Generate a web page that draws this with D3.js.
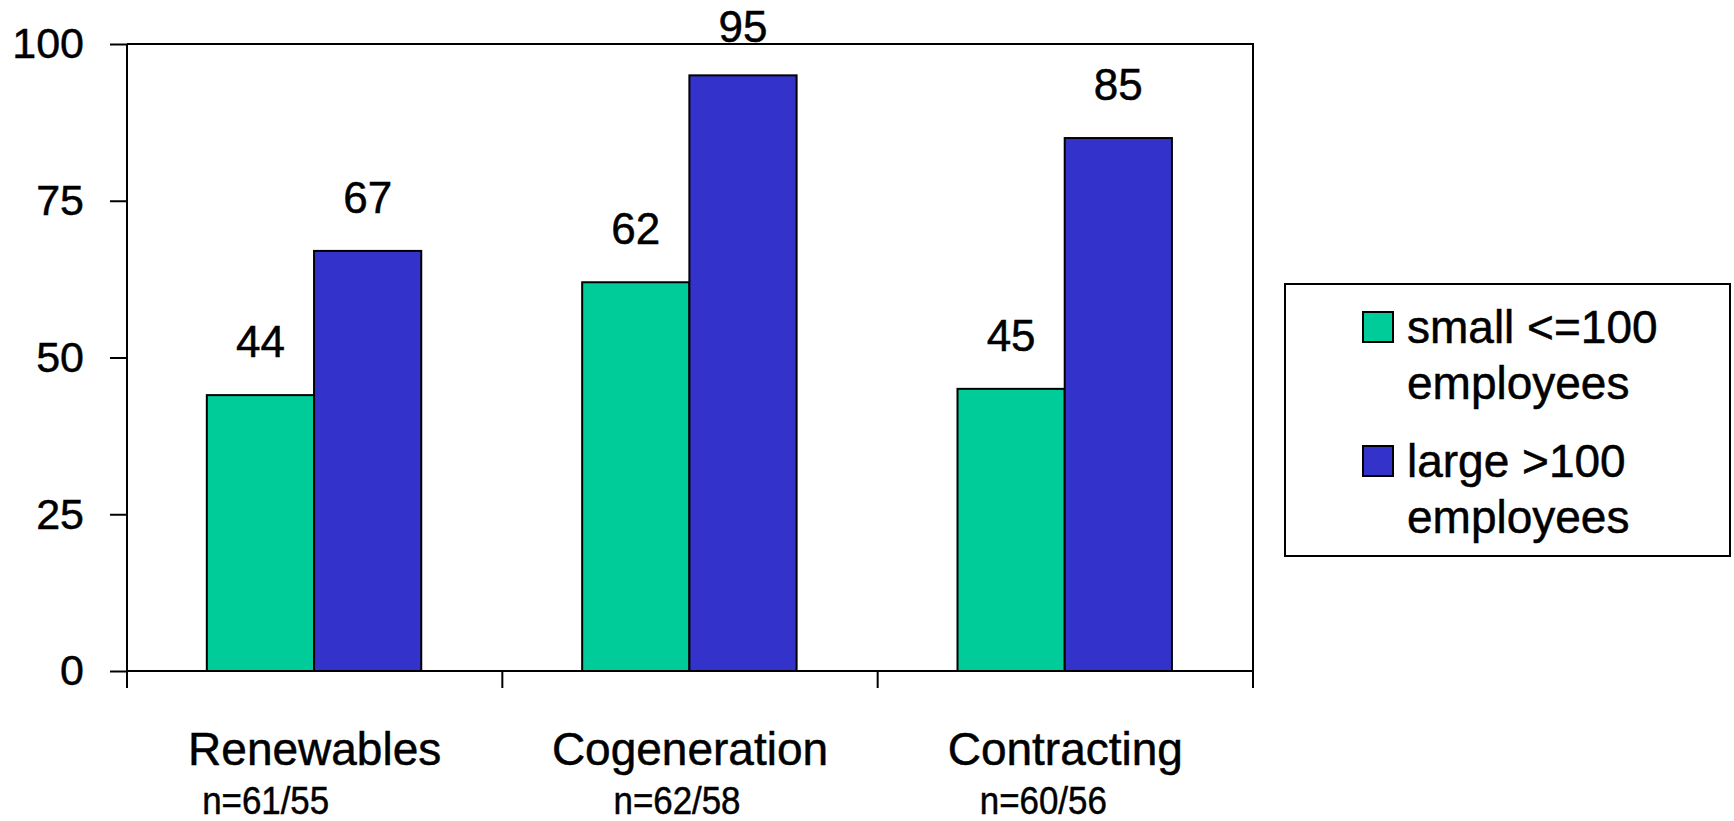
<!DOCTYPE html>
<html>
<head>
<meta charset="utf-8">
<script src="https://cdn.jsdelivr.net/npm/d3@7"></script>
<style>
  html, body { margin: 0; padding: 0; background: #fff; }
  svg text { font-family: "Liberation Sans", Arial, sans-serif; fill: #000; stroke: #000; stroke-width: 0.5px; }
</style>
</head>
<body>
<svg id="chart" width="1734" height="821"></svg>
<script>
// Share of companies (%) by field of activity and company size
const categories = ["Renewables", "Cogeneration", "Contracting"];
const sampleSizes = ["n=61/55", "n=62/58", "n=60/56"];
const seriesNames = ["small <=100\nemployees", "large >100\nemployees"];
const smallValues = [44, 62, 45];
const largeValues = [67, 95, 85];
const yTicks = [0, 25, 50, 75, 100];

const colors = ["#00CC99", "#3333CC"];
const series = [smallValues, largeValues];

// plot frame
const plotLeft = 127, plotRight = 1253, plotTop = 44, plotBottom = 671;

const svg = d3.select("#chart");

const x = d3.scaleBand().domain(categories).range([plotLeft, plotRight]).padding(0);
const xInner = d3.scaleBand()
  .domain(d3.range(series.length))
  .range([x.bandwidth() * 0.2127, x.bandwidth() * 0.784])
  .padding(0);
const y = d3.scaleLinear().domain([0, 100]).range([plotBottom, plotTop]);

// plot area border (top and right edges)
svg.append("path")
  .attr("d", `M${plotLeft},${plotTop}H${plotRight}V${plotBottom}`)
  .attr("fill", "none").attr("stroke", "#000").attr("stroke-width", 2);

// bars with value labels above them (labels kept inside the canvas)
categories.forEach((c, i) => {
  series.forEach((vals, s) => {
    svg.append("rect")
      .attr("x", x(c) + xInner(s))
      .attr("y", y(vals[i]))
      .attr("width", xInner.bandwidth())
      .attr("height", y(0) - y(vals[i]))
      .attr("fill", colors[s])
      .attr("stroke", "#000").attr("stroke-width", 2);
    svg.append("text")
      .attr("x", x(c) + xInner(s) + xInner.bandwidth() / 2)
      .attr("y", Math.max(y(vals[i]) - 38, 42))
      .attr("text-anchor", "middle")
      .attr("font-size", 44)
      .text(vals[i]);
  });
});

// y axis
const yAxis = svg.append("g")
  .attr("transform", `translate(${plotLeft},0)`)
  .call(d3.axisLeft(y).tickValues(yTicks).tickSize(17).tickPadding(26));
yAxis.select(".domain").attr("stroke", "#000").attr("stroke-width", 2)
  .attr("d", `M0,${plotTop}V${plotBottom}`);
yAxis.selectAll(".tick line").attr("stroke", "#000").attr("stroke-width", 2);
yAxis.selectAll(".tick text")
  .attr("font-size", 43)
  .attr("font-family", "Liberation Sans, Arial, sans-serif")
  .attr("fill", "#000");

// x axis: baseline with ticks between the category groups
const xTickPos = d3.range(categories.length + 1).map(i => plotLeft + i * x.bandwidth());
svg.append("line")
  .attr("x1", plotLeft).attr("x2", plotRight).attr("y1", plotBottom).attr("y2", plotBottom)
  .attr("stroke", "#000").attr("stroke-width", 2);
svg.selectAll(".xtick").data(xTickPos).enter().append("line")
  .attr("x1", d => d).attr("x2", d => d)
  .attr("y1", plotBottom).attr("y2", plotBottom + 17)
  .attr("stroke", "#000").attr("stroke-width", 2);

// category labels and sample sizes (sample sizes set in a condensed width)
const nOffsets = [-49, -13, -22];
categories.forEach((c, i) => {
  const cx = x(c) + x.bandwidth() / 2;
  svg.append("text")
    .attr("x", cx).attr("y", 765)
    .attr("text-anchor", "middle")
    .attr("font-size", 46)
    .text(c);
  svg.append("text")
    .attr("x", cx + nOffsets[i]).attr("y", 814)
    .attr("text-anchor", "middle")
    .attr("font-size", 38)
    .attr("textLength", 127)
    .attr("lengthAdjust", "spacingAndGlyphs")
    .text(sampleSizes[i]);
});

// legend
const legend = svg.append("g");
legend.append("rect")
  .attr("x", 1285).attr("y", 284).attr("width", 445).attr("height", 272)
  .attr("fill", "#fff").attr("stroke", "#000").attr("stroke-width", 2);
seriesNames.forEach((name, s) => {
  const gy = 312 + s * 134;
  legend.append("rect")
    .attr("x", 1363).attr("y", gy).attr("width", 30).attr("height", 30)
    .attr("fill", colors[s]).attr("stroke", "#000").attr("stroke-width", 2);
  name.split("\n").forEach((line, k) => {
    legend.append("text")
      .attr("x", 1407).attr("y", gy + 31 + k * 56)
      .attr("font-size", 46)
      .text(line);
  });
});
</script>
</body>
</html>
